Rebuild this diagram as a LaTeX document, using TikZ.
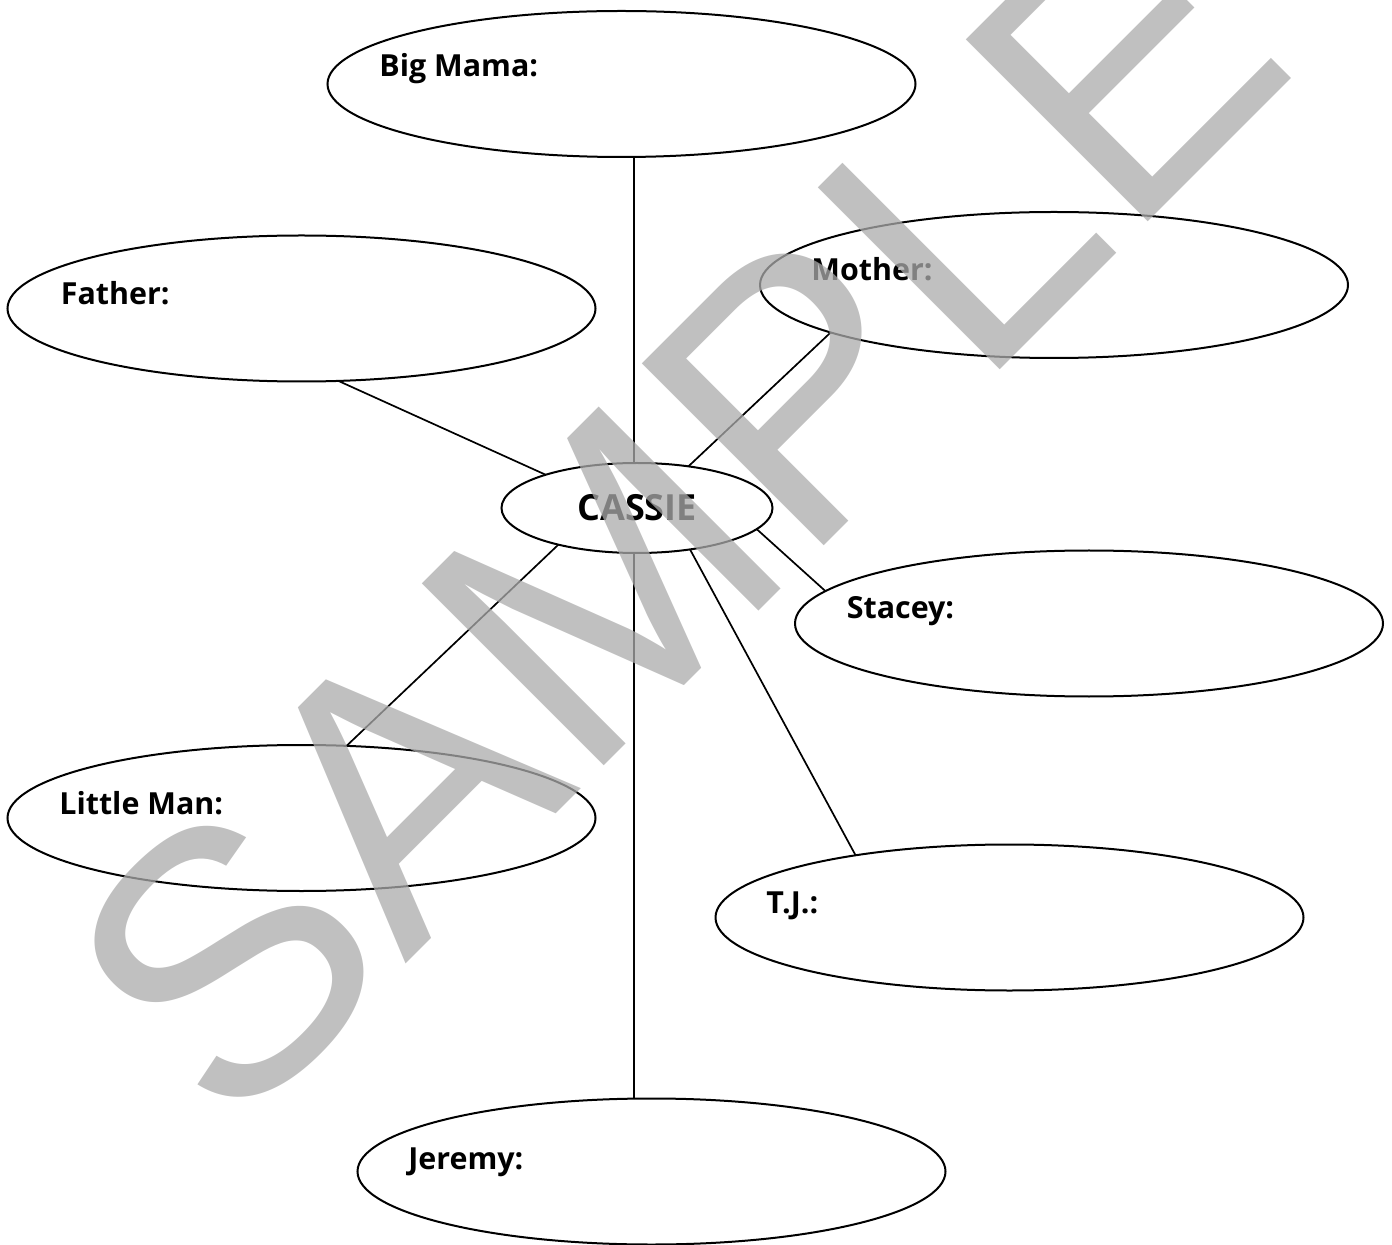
\documentclass[tikz,border=0pt]{standalone}
\usepackage{fontspec}
\setmainfont{Open Sans}
\newfontfamily\wmfont{Liberation Sans}
\usetikzlibrary{shapes.geometric}
\begin{document}
\begin{tikzpicture}[x=0.5pt,y=-0.5pt,
  bubble/.style={draw,line width=1pt,ellipse,minimum width=294pt,minimum height=73pt,inner sep=0pt,outer sep=0pt},
  hub/.style={draw,line width=1pt,ellipse,minimum width=135.5pt,minimum height=45pt,inner sep=0pt,outer sep=0pt,font=\fontsize{18}{20}\selectfont\bfseries},
  lbl/.style={anchor=base west,inner sep=0pt,font=\fontsize{15.2}{17}\selectfont\bfseries},
  link/.style={line width=0.85pt},
  watermark/.style={text=black!33,text opacity=0.75,rotate=45,anchor=base,inner sep=0pt,font=\wmfont\fontsize{187}{187}\selectfont}]
\useasboundingbox (0,0) rectangle (1392,1245);
% ellipses
\node[bubble] (bigmama) at (621.5,84) {};
\node[bubble] (father) at (301.5,308.5) {};
\node[bubble] (mother) at (1054,285) {};
\node[hub] (cassie) at (637,508) {CASSIE};
\node[bubble] (stacey) at (1089,623.5) {};
\node[bubble] (littleman) at (301.5,818) {};
\node[bubble] (tj) at (1009.5,917.5) {};
\node[bubble] (jeremy) at (651.5,1171.5) {};
% labels
\node[lbl] (lbigmama) at (379,77) {Big Mama:};
\node[lbl] (lfather) at (60.5,305) {Father:};
\node[lbl] (lmother) at (811,281) {Mother:};
\node[lbl] (lstacey) at (846.5,618.5) {Stacey:};
\node[lbl] (llittleman) at (59,814) {Little Man:};
\node[lbl] (ltj) at (766,913) {T.J.:};
\node[lbl] (ljeremy) at (408,1169.5) {Jeremy:};
% connectors
\draw[link] (cassie.94) -- (cassie.94 |- bigmama.south);
\draw[link] (cassie.-94) -- (cassie.-94 |- jeremy.north);
\draw[link] (father.-63.6) -- (cassie.160.7);
\draw[link] (mother.-168.2) -- (cassie.39);
\draw[link] (cassie.-10.9) -- (stacey.173.5);
\draw[link] (cassie.-155.8) -- (littleman.58.9);
\draw[link] (cassie.-38.3) -- (tj.158);
% watermark
\node[watermark] (wm) at (766,604) {SAMPLE};
\end{tikzpicture}
\end{document}
